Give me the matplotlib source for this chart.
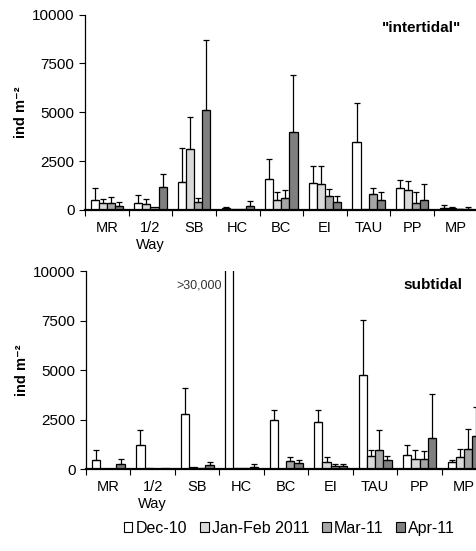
import numpy as np
import matplotlib.pyplot as plt

plt.rcParams['font.family'] = ['Liberation Sans', 'DejaVu Sans']

sites = ["MR", "1/2\nWay", "SB", "HC", "BC", "EI", "TAU", "PP", "MP"]
periods = ["Dec-10", "Jan-Feb 2011", "Mar-11", "Apr-11"]
colors = ["white", "#d9d9d9", "#a6a6a6", "#7f7f7f"]

# intertidal means and upper error
int_dec = [510, 375, 1430, 90, 1590, 1400, 3480, 1130, 85]
int_jan = [340, 310, 3100, 30, 510, 1330, 70, 1020, 110]
int_mar = [340, 140, 410, 40, 610, 720, 820, 360, 40]
int_apr = [220, 1180, 5120, 200, 3990, 430, 510, 510, 60]
int_dec_err = [600, 410, 1760, 40, 1020, 870, 1980, 390, 170]
int_jan_err = [210, 250, 1660, 0, 410, 940, 0, 450, 40]
int_mar_err = [340, 0, 220, 0, 410, 340, 310, 560, 20]
int_apr_err = [210, 660, 3580, 260, 2900, 290, 410, 820, 90]

# subtidal means and upper error (HC Dec > 30,000)
sub_dec = [455, 1200, 2780, 30000, 2480, 2360, 4755, 710, 340]
sub_jan = [20, 50, 85, 30, 10, 340, 640, 490, 590]
sub_mar = [20, 20, 30, 30, 390, 150, 945, 490, 995]
sub_apr = [235, 50, 200, 85, 290, 150, 440, 1550, 1650]
sub_dec_err = [490, 760, 1320, 0, 490, 610, 2770, 490, 100]
sub_jan_err = [0, 0, 0, 0, 0, 250, 340, 455, 405]
sub_mar_err = [0, 0, 0, 0, 200, 85, 1010, 405, 1010]
sub_apr_err = [270, 0, 135, 150, 150, 85, 200, 2230, 1500]


def draw_panel(ax, means, errs, title, title_x):
    x = np.arange(len(sites))
    w = 0.185
    for k in range(4):
        pos = x + 0.5 + (k - 1.5) * w
        ax.bar(pos, means[k], w, color=colors[k], edgecolor="black",
               linewidth=0.9, zorder=2)
        e = np.array(errs[k])
        m = e > 0
        ax.errorbar(pos[m], np.array(means[k])[m],
                    yerr=[np.zeros(m.sum()), e[m]], fmt="none",
                    ecolor="black", elinewidth=0.9, capsize=2.5,
                    capthick=0.9, zorder=3)
    ax.set_xlim(0, 9)
    ax.set_ylim(0, 10000)
    ax.set_yticks([0, 2500, 5000, 7500, 10000])
    ax.set_xticks(np.arange(10))
    ax.set_xticklabels([])
    ax.set_xticks(x + 0.5, minor=True)
    ax.set_xticklabels(sites, minor=True, fontsize=10.5, linespacing=1.25)
    ax.tick_params(axis="x", which="minor", length=0, pad=8)
    ax.tick_params(axis="x", which="major", length=4, direction="out")
    ax.tick_params(axis="y", labelsize=11, length=4, direction="out")
    for s in ["top", "right"]:
        ax.spines[s].set_visible(False)
    ax.spines["bottom"].set_linewidth(1.6)
    ax.spines["left"].set_linewidth(0.9)
    ax.set_ylabel("ind m\u207b\u00b2", fontsize=10.5, fontweight="bold",
                  labelpad=3)
    ax.text(title_x, 0.93, title, transform=ax.transAxes, ha="right",
            va="center", fontsize=11, fontweight="bold")


fig = plt.figure(figsize=(4.76, 5.51), dpi=100)
ax1 = fig.add_axes([0.1786, 0.619, 0.825, 0.3544])
ax2 = fig.add_axes([0.1807, 0.1488, 0.841, 0.3588])

draw_panel(ax1, [int_dec, int_jan, int_mar, int_apr],
           [int_dec_err, int_jan_err, int_mar_err, int_apr_err],
           '"intertidal"', 0.958)
draw_panel(ax2, [sub_dec, sub_jan, sub_mar, sub_apr],
           [sub_dec_err, sub_jan_err, sub_mar_err, sub_apr_err],
           "subtidal", 0.94)
ax2.text(3.05, 9300, ">30,000", ha="right", va="center", fontsize=9,
         color="#333333")

handles = [plt.Rectangle((0, 0), 1, 1, facecolor=c, edgecolor="black",
                         linewidth=0.8) for c in colors]
fig.legend(handles, periods, loc="center", bbox_to_anchor=(0.608, 0.041),
           ncol=4, frameon=False, fontsize=11.5, handlelength=0.55,
           handleheight=0.55, handletextpad=0.2, columnspacing=0.8)

fig.savefig("out.png", dpi=100)
